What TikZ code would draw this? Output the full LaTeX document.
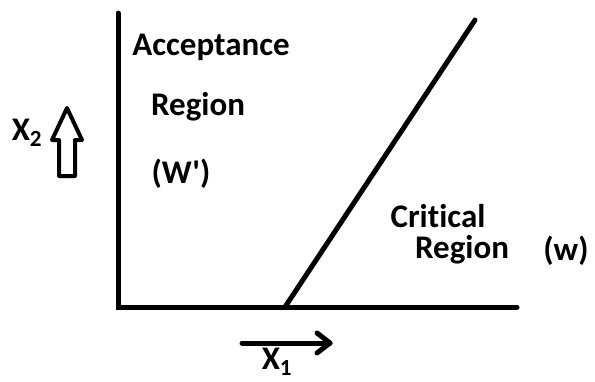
\documentclass[tikz,border=0pt]{standalone}
\usepackage{fontspec}
\setmainfont{Carlito}[Ligatures={TeXOff,NoCommon}]
\usetikzlibrary{arrows.meta}
\begin{document}
\begin{tikzpicture}[x=1pt,y=-1pt,
  axis/.style={line width=5pt,line cap=round},
  lbl/.style={font=\bfseries\fontsize{33}{36}\selectfont,inner sep=0pt,anchor=center}]
\useasboundingbox (0,0) rectangle (595,381);
\coordinate (top) at (118,13);
\coordinate (origin) at (118,307);
\coordinate (xend) at (517,307);
\coordinate (dstart) at (285,307);
\coordinate (dend) at (475,20);
\draw[axis] (top) -- (origin) -- (xend);
\draw[axis] (dstart) -- (dend);
% hollow up arrow
\draw[line width=4pt,line join=round]
  (67,108) -- (82,140) -- (75,140) -- (75,176) -- (59,176) -- (59,140) -- (52,140) -- cycle;
% right arrow
\coordinate (ra) at (242,343);
\coordinate (rb) at (330,343);
\draw[line width=5pt,line cap=round] (ra) -- (rb);
\draw[line width=5pt,line cap=round,line join=round] (317,333) -- (330,343) -- (317,353);
\node[lbl] (x2) at (27,133) {X\textsubscript{2}};
\node[lbl] (x1) at (277,362) {X\textsubscript{1}};
\node[lbl] (acc) at (211,47) {Acceptance};
\node[lbl] (reg1) at (198,107) {Region};
\node[lbl] (wp) at (181,174) {(W')};
\node[lbl] (crit) at (438,216) {Critical};
\node[lbl] (reg2) at (462,250) {Region};
\node[lbl] (w) at (566,251) {(w)};
\end{tikzpicture}
\end{document}
